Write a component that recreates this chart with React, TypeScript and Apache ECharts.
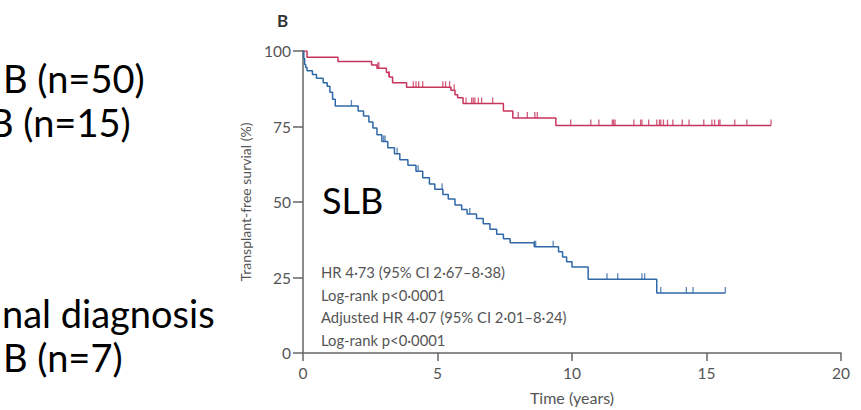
import React, { useEffect, useRef } from "react";
import * as echarts from "echarts";

// Kaplan–Meier step data: event times (years) and survival (%) after each drop
const RED_T = [0, 0.15, 1.3, 2.55, 2.75, 3.1, 3.2, 3.33, 3.85, 5.5, 5.65, 5.75, 5.95, 7.45, 7.8, 9.4];
const RED_S = [100, 97.9, 96.5, 95.4, 94.3, 92.9, 91.4, 89.5, 88.0, 87.0, 85.5, 84.5, 82.6, 80.1, 77.8, 75.3];
const RED_END = 17.4;
const RED_CENSOR = [2.78, 2.82, 3.2, 4.1, 4.2, 4.3, 4.45, 5.2, 5.3, 5.45, 5.62, 6.06, 6.27, 6.33, 6.39, 6.52, 6.64, 7.05, 8.0, 8.34, 8.62, 8.71,
  9.95, 10.7, 11.0, 11.5, 11.55, 11.6, 12.3, 12.55, 12.6, 12.85, 13.15, 13.25, 13.3, 13.4, 13.55, 13.75, 14.1, 14.35, 14.9, 15.2, 15.3, 15.45, 15.5, 16.05, 16.5, 17.4];

const BLUE_T = [0, 0.03, 0.06, 0.1, 0.15, 0.35, 0.5, 0.75, 0.9, 1.0, 1.1, 1.2, 2.05, 2.25, 2.45, 2.6, 2.75, 2.93, 3.15, 3.4, 3.6, 3.9, 4.2, 4.45, 4.7, 4.9, 5.2, 5.4, 5.65, 5.9, 6.1, 6.45, 6.7, 6.95, 7.2, 7.45, 7.7, 8.6, 9.5, 9.65, 9.8, 10.0, 10.6, 13.15];
const BLUE_S = [100, 97.5, 95.5, 94.5, 93.5, 92.2, 91.0, 89.5, 88.3, 86.3, 84.0, 81.8, 80.1, 78.5, 76.5, 74.5, 72.3, 70.0, 68.0, 66.0, 64.0, 62.2, 60.2, 58.0, 56.0, 54.2, 52.5, 51.0, 49.0, 47.5, 46.0, 44.5, 42.8, 41.0, 39.3, 37.8, 36.5, 35.2, 33.5, 31.8, 30.2, 28.5, 24.4, 19.9];
const BLUE_END = 15.7;
const BLUE_CENSOR = [1.8, 3.0, 3.05, 3.5, 4.28, 5.17, 6.2, 8.6, 8.65, 9.3, 11.3, 11.7, 12.6, 12.7, 13.3, 14.25, 14.5, 15.7];

const X_TICKS = { min: 0, max: 20, interval: 5 };
const Y_TICKS = { min: 0, max: 100, interval: 25 };

const LEFT_LABELS = ["B (n=50)", "B (n=15)", "nal diagnosis", "B (n=7)"];
const STATS = ["HR 4·73 (95% CI 2·67–8·38)", "Log-rank p<0·0001", "Adjusted HR 4·07 (95% CI 2·01–8·24)", "Log-rank p<0·0001"];

const RED = "#c7355b";
const BLUE = "#2f68a8";
const AXIS = "#666";
const TXT = "#555";
const FONT = "Lato, 'Open Sans', sans-serif";

function stepPoints(ts: number[], ss: number[], end: number) {
  const out: number[][] = [[ts[0], ss[0]]];
  for (let i = 1; i < ts.length; i++) {
    out.push([ts[i], ss[i - 1]]);
    out.push([ts[i], ss[i]]);
  }
  out.push([end, ss[ss.length - 1]]);
  return out;
}

function survAt(ts: number[], ss: number[], t: number) {
  let v = ss[0];
  for (let i = 0; i < ts.length; i++) if (ts[i] <= t) v = ss[i];
  return v;
}

export default function App() {
  const ref = useRef<HTMLDivElement>(null);
  useEffect(() => {
    if (!ref.current) return;
    const chart = echarts.init(ref.current, null, { renderer: "svg" });
    const censorSeries = (ts: number[], ss: number[], c: number[], color: string) => ({
      type: "scatter",
      data: c.map((t) => [t, survAt(ts, ss, t)]),
      symbol: "rect",
      symbolSize: [1.3, 6],
      symbolOffset: [0, -3],
      itemStyle: { color },
      silent: true,
      z: 3,
    });
    const bigText = (text: string, x: number, y: number) => ({
      type: "text",
      x,
      y,
      style: { text, font: `38px ${FONT}`, fill: "#000", verticalAlign: "middle", align: "left" },
    });
    chart.setOption({
      animation: false,
      backgroundColor: "#fff",
      grid: { left: 303, right: 20, top: 51, bottom: 52, containLabel: false },
      xAxis: {
        type: "value",
        ...X_TICKS,
        name: "Time (years)",
        nameLocation: "middle",
        nameGap: 36,
        nameTextStyle: { color: TXT, fontSize: 16, fontFamily: FONT },
        axisLine: { show: true, lineStyle: { color: AXIS, width: 1.5 } },
        axisTick: { show: true, length: 8, lineStyle: { color: AXIS, width: 1.5 } },
        axisLabel: { color: TXT, fontSize: 15.5, fontFamily: FONT, margin: 12 },
        splitLine: { show: false },
      },
      yAxis: {
        type: "value",
        ...Y_TICKS,
        name: "Transplant-free survial (%)",
        nameLocation: "middle",
        nameGap: 51,
        nameTextStyle: { color: TXT, fontSize: 14, fontFamily: FONT },
        axisLine: { show: true, lineStyle: { color: AXIS, width: 1.5 } },
        axisTick: { show: true, length: 10, lineStyle: { color: AXIS, width: 1.5 } },
        axisLabel: { color: TXT, fontSize: 15.5, fontFamily: FONT, margin: 12 },
        splitLine: { show: false },
      },
      series: [
        {
          type: "line",
          data: stepPoints(RED_T, RED_S, RED_END),
          showSymbol: false,
          lineStyle: { color: RED, width: 1.5 },
          itemStyle: { color: RED },
          silent: true,
          z: 2,
        },
        {
          type: "line",
          data: stepPoints(BLUE_T, BLUE_S, BLUE_END),
          showSymbol: false,
          lineStyle: { color: BLUE, width: 1.5 },
          itemStyle: { color: BLUE },
          silent: true,
          z: 2,
        },
        censorSeries(RED_T, RED_S, RED_CENSOR, RED),
        censorSeries(BLUE_T, BLUE_S, BLUE_CENSOR, BLUE),
      ],
      graphic: [
        bigText(LEFT_LABELS[0], 3, 78),
        bigText(LEFT_LABELS[1], -11, 122),
        bigText(LEFT_LABELS[2], 2, 313),
        bigText(LEFT_LABELS[3], 3, 357),
        {
          type: "text",
          x: 277,
          y: 20,
          style: { text: "B", font: `bold 17px ${FONT}`, fill: "#333", verticalAlign: "middle" },
        },
        {
          type: "text",
          x: 322,
          y: 200,
          style: { text: "SLB", font: `36px ${FONT}`, fill: "#000", verticalAlign: "middle" },
        },
        ...STATS.map((s, i) => ({
          type: "text",
          x: 321,
          y: 272 + i * 22.5,
          style: { text: s, font: `14.8px ${FONT}`, fill: TXT, verticalAlign: "middle" },
        })),
      ],
    });
    return () => chart.dispose();
  }, []);
  return (
    <div
      ref={ref}
      style={{ position: "absolute", left: 0, top: 0, width: 861, height: 410 }}
    />
  );
}
